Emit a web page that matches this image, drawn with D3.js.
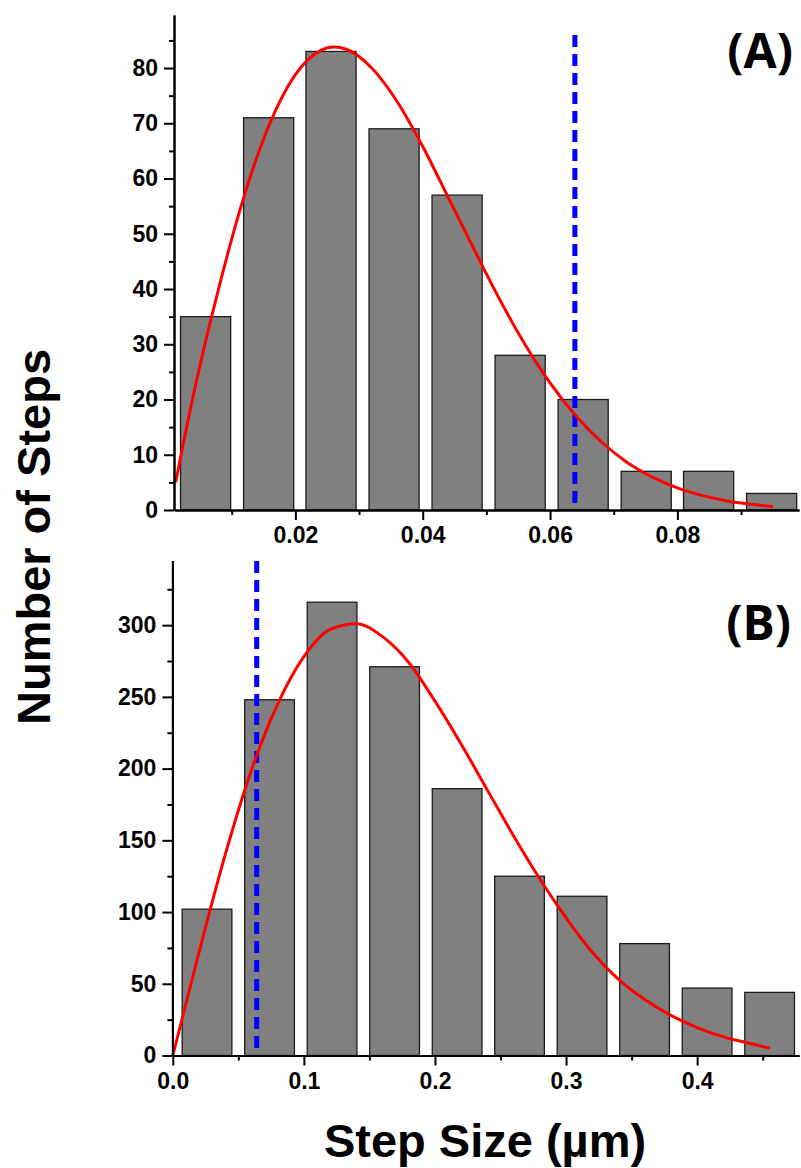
<!DOCTYPE html>
<html>
<head>
<meta charset="utf-8">
<script src="https://cdn.jsdelivr.net/npm/d3@7"></script>
<style>
  body { margin: 0; background: #fff; }
  svg { display: block; }
  .tick text { font-family: "Liberation Sans", Arial, sans-serif; font-weight: bold; font-size: 23px; fill: #000; }
</style>
</head>
<body>
<svg id="chart" width="801" height="1168"></svg>
<script>
// ---- Panel A: step-size histogram (µm) ----
const binCentersA = [0.0059, 0.0158, 0.0256, 0.0355, 0.0454, 0.0553, 0.0652, 0.0751, 0.0849, 0.0948];
const countsA = [35, 71, 83, 69, 57, 28, 20, 7, 7, 3];
const fitXA = [0.0012, 0.004, 0.008, 0.012, 0.016, 0.020, 0.024, 0.026, 0.028, 0.032, 0.036, 0.040, 0.044,
               0.048, 0.052, 0.056, 0.060, 0.064, 0.068, 0.072, 0.076, 0.080, 0.084, 0.088, 0.092, 0.095];
const fitYA = [5.0, 20.9, 40.3, 57.0, 70.0, 78.8, 83.2, 83.8, 83.4, 80.0, 73.9, 65.8, 56.6,
               47.3, 38.3, 30.1, 23.0, 17.1, 12.4, 8.7, 6.0, 4.0, 2.6, 1.6, 1.0, 0.6];
const cutoffA = 0.0639;
const xMajorA = [0.02, 0.04, 0.06, 0.08];
const xMajorLabelsA = ["0.02", "0.04", "0.06", "0.08"];
const xMinorA = [0.01, 0.03, 0.05, 0.07, 0.09];
const yMajorA = [0, 10, 20, 30, 40, 50, 60, 70, 80];
const yMinorA = [5, 15, 25, 35, 45, 55, 65, 75, 85];
const xDomainA = [0.001, 0.0991];
const yDomainA = [0, 89.6];

// ---- Panel B ----
const binCentersB = [0.0261, 0.0738, 0.1215, 0.1692, 0.2169, 0.2645, 0.3122, 0.3599, 0.4076, 0.4553];
const countsB = [102, 248, 316, 271, 186, 125, 111, 78, 47, 44];
const fitXB = [0.0, 0.02, 0.04, 0.06, 0.08, 0.10, 0.12, 0.14, 0.16, 0.18, 0.20, 0.22, 0.24, 0.26,
               0.28, 0.30, 0.32, 0.34, 0.36, 0.38, 0.40, 0.42, 0.44, 0.4555];
const fitYB = [0, 72, 140, 199, 245, 278, 297, 301, 292, 274, 247, 217, 185, 153,
               123, 96, 72, 53, 39, 28, 19.5, 13, 8.5, 5];
const cutoffB = 0.064;
const xMajorB = [0.0, 0.1, 0.2, 0.3, 0.4];
const xMajorLabelsB = ["0.0", "0.1", "0.2", "0.3", "0.4"];
const xMinorB = [0.05, 0.15, 0.25, 0.35, 0.45];
const yMajorB = [0, 50, 100, 150, 200, 250, 300];
const yMinorB = [25, 75, 125, 175, 225, 275, 325];
const xDomainB = [0, 0.4777];
const yDomainB = [0, 345];

const panelLabels = ["(A)", "(B)"];
const xTitle = "Step Size (µm)";
const yTitle = "Number of Steps";

// ---- layout ----
const panels = [
  { bins: binCentersA, counts: countsA, fitX: fitXA, fitY: fitYA, cutoff: cutoffA,
    xMajor: xMajorA, xLabels: xMajorLabelsA, xMinor: xMinorA, yMajor: yMajorA, yMinor: yMinorA,
    xDomain: xDomainA, yDomain: yDomainA, label: panelLabels[0],
    left: 174.4, right: 799, top: 15, bottom: 510, dashTop: 35, labelY: 68, labelX: 793 },
  { bins: binCentersB, counts: countsB, fitX: fitXB, fitY: fitYB, cutoff: cutoffB,
    xMajor: xMajorB, xLabels: xMajorLabelsB, xMinor: xMinorB, yMajor: yMajorB, yMinor: yMinorB,
    xDomain: xDomainB, yDomain: yDomainB, label: panelLabels[1],
    left: 172.8, right: 799, top: 560.6, bottom: 1055.5, dashTop: 561, labelY: 640, labelX: 791 }
];

const svg = d3.select("#chart");
svg.append("rect").attr("width", 801).attr("height", 1168).attr("fill", "#fff");

panels.forEach(p => {
  const x = d3.scaleLinear().domain(p.xDomain).range([p.left, p.right]);
  const y = d3.scaleLinear().domain(p.yDomain).range([p.bottom, p.top]);
  const g = svg.append("g");

  // bars
  const step = p.bins[1] - p.bins[0];
  const bw = step * 0.795;
  g.selectAll("rect.bar").data(p.bins).join("rect")
    .attr("class", "bar")
    .attr("x", d => x(d - bw / 2))
    .attr("width", d => x(d + bw / 2) - x(d - bw / 2))
    .attr("y", (d, i) => y(p.counts[i]))
    .attr("height", (d, i) => y(0) - y(p.counts[i]))
    .attr("fill", "#808080")
    .attr("stroke", "#1c1c1c")
    .attr("stroke-width", 1.3);

  // cutoff marker
  g.append("line")
    .attr("x1", x(p.cutoff)).attr("x2", x(p.cutoff))
    .attr("y1", p.dashTop).attr("y2", y(0))
    .attr("stroke", "#0000ff")
    .attr("stroke-width", 5)
    .attr("stroke-dasharray", "12,7");

  // fitted distribution
  const pts = p.fitX.map((d, i) => [d, p.fitY[i]]);
  g.append("path")
    .datum(pts)
    .attr("d", d3.line().x(d => x(d[0])).y(d => y(d[1])).curve(d3.curveMonotoneX))
    .attr("fill", "none")
    .attr("stroke", "#ff0000")
    .attr("stroke-width", 3);

  // axes
  const xMinorAxis = g.append("g").attr("transform", `translate(0,${p.bottom})`)
    .call(d3.axisBottom(x).tickValues(p.xMinor).tickSize(5).tickSizeOuter(0).tickFormat(""));
  const xAxis = g.append("g").attr("transform", `translate(0,${p.bottom})`)
    .call(d3.axisBottom(x).tickValues(p.xMajor).tickSize(10).tickSizeOuter(0).tickPadding(7)
      .tickFormat((d, i) => p.xLabels[i]));
  const yMinorAxis = g.append("g").attr("transform", `translate(${p.left - 0.4},0)`)
    .call(d3.axisLeft(y).tickValues(p.yMinor).tickSize(5).tickSizeOuter(0).tickFormat(""));
  const yAxis = g.append("g").attr("transform", `translate(${p.left - 0.4},0)`)
    .call(d3.axisLeft(y).tickValues(p.yMajor).tickSize(10).tickSizeOuter(0).tickPadding(6)
      .tickFormat(d3.format("d")));
  [xMinorAxis, xAxis, yMinorAxis, yAxis].forEach(a => {
    a.select(".domain").attr("stroke", "#000").attr("stroke-width", 2);
    a.selectAll(".tick line").attr("stroke", "#000").attr("stroke-width", 2);
  });

  // panel tag
  g.append("text")
    .attr("x", p.labelX).attr("y", p.labelY)
    .attr("text-anchor", "end")
    .attr("font-family", "'Open Sans', sans-serif")
    .attr("font-weight", "bold")
    .attr("font-size", 48)
    .text(p.label);
});

// shared axis titles
svg.append("text")
  .attr("x", 485).attr("y", 1157)
  .attr("text-anchor", "middle")
  .attr("font-family", "'Liberation Sans', Arial, sans-serif")
  .attr("font-weight", "bold")
  .attr("font-size", 47)
  .text(xTitle);

svg.append("text")
  .attr("transform", "translate(50,537) rotate(-90)")
  .attr("text-anchor", "middle")
  .attr("font-family", "'Liberation Sans', Arial, sans-serif")
  .attr("font-weight", "bold")
  .attr("font-size", 47)
  .text(yTitle);
</script>
</body>
</html>
